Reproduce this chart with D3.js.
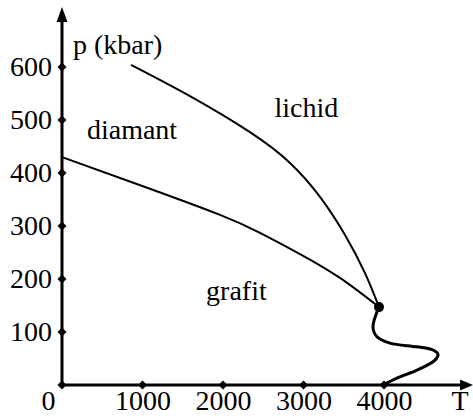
<!DOCTYPE html>
<html>
<head>
<meta charset="utf-8">
<script src="https://cdn.jsdelivr.net/npm/d3@7"></script>
<style>
  html, body { margin: 0; padding: 0; background: #fff; }
  svg { display: block; }
  text { font-family: "Liberation Serif", "DejaVu Serif", serif; fill: #000; }
</style>
</head>
<body>
<svg id="chart" width="473" height="416"></svg>
<script>
// Carbon phase diagram: temperature T (K) vs pressure p (kbar)
const xTicks = [0, 1000, 2000, 3000, 4000];
const yTicks = [100, 200, 300, 400, 500, 600];

// diamond / graphite boundary
const dgT = [0, 1006, 1963, 2460, 2957, 3453, 3938];
const dgP = [430, 375, 321, 287, 247, 202, 147];

// diamond / liquid boundary
const dlT = [857, 1590, 2335, 2832, 3205, 3516, 3764, 3938];
const dlP = [604, 545, 477, 419, 355, 283, 211, 147];

// graphite / liquid boundary (melting curve, re-entrant)
const glT = [3938, 3863, 3913, 4075, 4410, 4609, 4671, 4634, 4410, 4161, 3988];
const glP = [147, 109, 91, 79, 72, 66, 58, 47, 28, 13, 0];

// triple point
const tripleT = 3938, tripleP = 147;

const regionNames = ["diamant", "lichid", "grafit"];
const regionT = [310, 2640, 1790];
const regionP = [465, 505, 160];

const svg = d3.select("#chart");
const x = d3.scaleLinear().domain([0, 4000]).range([62, 384]);
const y = d3.scaleLinear().domain([0, 600]).range([385, 67]);
const FS = 28;

// axis lines with arrow heads
const axisG = svg.append("g");
axisG.append("line")
  .attr("x1", x(0)).attr("x2", 462)
  .attr("y1", y(0)).attr("y2", y(0))
  .attr("stroke", "#000").attr("stroke-width", 3);
axisG.append("path")
  .attr("d", `M473,${y(0)} L460,${y(0) - 5.5} L460,${y(0) + 5.5} Z`)
  .attr("fill", "#000");
axisG.append("line")
  .attr("x1", x(0)).attr("x2", x(0))
  .attr("y1", y(0)).attr("y2", 20)
  .attr("stroke", "#000").attr("stroke-width", 3);
axisG.append("path")
  .attr("d", `M${x(0)},7 L${x(0) - 5.5},22 L${x(0) + 5.5},22 Z`)
  .attr("fill", "#000");

// tick labels via d3 axes
const xAxis = d3.axisBottom(x).tickValues(xTicks).tickSize(0).tickPadding(5)
  .tickFormat(d3.format("d"));
const gx = svg.append("g").attr("transform", `translate(0,${y(0)})`).call(xAxis);
gx.select(".domain").remove();
gx.selectAll("text").style("font-size", FS + "px").attr("font-family", null).attr("fill", "#000");
gx.selectAll(".tick").filter(d => d === 0).select("text").attr("x", -14);

const yAxis = d3.axisLeft(y).tickValues(yTicks).tickSize(0).tickPadding(10)
  .tickFormat(d3.format("d"));
const gy = svg.append("g").attr("transform", `translate(${x(0)},0)`).call(yAxis);
gy.select(".domain").remove();
gy.selectAll("text").style("font-size", FS + "px").attr("font-family", null).attr("fill", "#000");

// diamond tick markers
const marker = d3.symbol().type(d3.symbolSquare).size(40);
svg.append("g").selectAll("path").data(xTicks).join("path")
  .attr("d", marker)
  .attr("transform", d => `translate(${x(d)},${y(0)}) rotate(45)`)
  .attr("fill", "#000");
svg.append("g").selectAll("path").data(yTicks).join("path")
  .attr("d", marker)
  .attr("transform", d => `translate(${x(0)},${y(d)}) rotate(45)`)
  .attr("fill", "#000");

// axis titles
svg.append("text").attr("x", 73).attr("y", 54)
  .style("font-size", FS + "px").text("p (kbar)");
svg.append("text").attr("x", 460).attr("y", 410).attr("text-anchor", "middle")
  .style("font-size", FS + "px").text("T");

// phase boundaries
const zip = (a, b) => a.map((v, i) => [v, b[i]]);
const lineX = d3.line().x(d => x(d[0])).y(d => y(d[1])).curve(d3.curveNatural);
const lineFree = d3.line().x(d => x(d[0])).y(d => y(d[1])).curve(d3.curveCatmullRom.alpha(0.5));

svg.append("path").datum(zip(dgT, dgP)).attr("d", lineX)
  .attr("fill", "none").attr("stroke", "#000").attr("stroke-width", 2);
svg.append("path").datum(zip(dlT, dlP)).attr("d", lineX)
  .attr("fill", "none").attr("stroke", "#000").attr("stroke-width", 2);
svg.append("path").datum(zip(glT, glP)).attr("d", lineFree)
  .attr("fill", "none").attr("stroke", "#000").attr("stroke-width", 3)
  .attr("stroke-linecap", "round");

svg.append("circle").attr("cx", x(tripleT)).attr("cy", y(tripleP)).attr("r", 5)
  .attr("fill", "#000");

// region labels
svg.append("g").selectAll("text").data(regionNames).join("text")
  .attr("x", (d, i) => x(regionT[i]))
  .attr("y", (d, i) => y(regionP[i]))
  .style("font-size", FS + "px")
  .text(d => d);
</script>
</body>
</html>
